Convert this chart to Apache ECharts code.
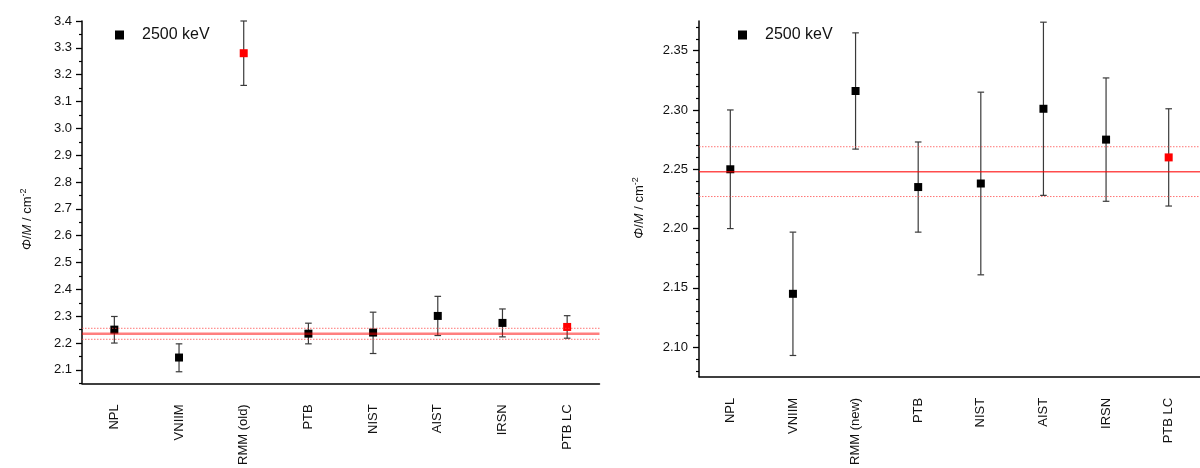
<!DOCTYPE html>
<html>
<head>
<meta charset="utf-8">
<script src="https://cdn.jsdelivr.net/npm/echarts@6/dist/echarts.min.js"></script>
<style>
html,body{margin:0;padding:0;background:#fff;}
#main{width:1200px;height:468px;}
</style>
</head>
<body>
<div id="main"></div>
<script>
// ---------- data ----------
const seriesName = '2500 keV';
const categoriesLeft = ['NPL', 'VNIIM', 'RMM (old)', 'PTB', 'NIST', 'AIST', 'IRSN', 'PTB LC'];
const valuesLeft = [2.250, 2.146, 3.280, 2.235, 2.239, 2.301, 2.275, 2.260];
const lowLeft    = [2.200, 2.093, 3.160, 2.197, 2.161, 2.228, 2.223, 2.218];
const highLeft   = [2.299, 2.197, 3.400, 2.274, 2.315, 2.374, 2.327, 2.302];
const refLeft = [2.235, 2.214, 2.255]; // mean, lower, upper

const categoriesRight = ['NPL', 'VNIIM', 'RMM (new)', 'PTB', 'NIST', 'AIST', 'IRSN', 'PTB LC'];
const valuesRight = [2.250, 2.145, 2.316, 2.235, 2.238, 2.301, 2.275, 2.260];
const lowRight    = [2.200, 2.093, 2.267, 2.197, 2.161, 2.228, 2.223, 2.219];
const highRight   = [2.300, 2.197, 2.365, 2.273, 2.315, 2.374, 2.327, 2.301];
const refRight = [2.248, 2.227, 2.269];

const highlighted = ['RMM (old)', 'PTB LC'];

const tickLabelsLeft = [2.1, 2.2, 2.3, 2.4, 2.5, 2.6, 2.7, 2.8, 2.9, 3.0, 3.1, 3.2, 3.3, 3.4];
const tickLabelsRight = [2.10, 2.15, 2.20, 2.25, 2.30, 2.35];

// ---------- helpers ----------
const FONT = '"Liberation Sans", Arial, sans-serif';
const leftRange = [2.05, 3.4];
const rightRange = [2.075, 2.375];

function minorTicks(range, step, majors) {
  const out = [];
  const start = Math.ceil(range[0] / step - 1e-6);
  for (let k = start; k * step <= range[1] + 1e-9; k++) {
    const v = +(k * step).toFixed(4);
    if (!majors.some(m => Math.abs(m - v) < 1e-6)) out.push(v);
  }
  return out;
}
const minorLeft = minorTicks(leftRange, 0.05, tickLabelsLeft);
const minorRight = minorTicks(rightRange, 0.01, tickLabelsRight);

function errorRender(params, api) {
  const x = api.value(0);
  const lo = api.coord([x, api.value(1)]);
  const hi = api.coord([x, api.value(2)]);
  const cap = 3.3;
  const style = { stroke: '#3a3a3a', lineWidth: 1.2 };
  return {
    type: 'group',
    children: [
      { type: 'line', shape: { x1: lo[0], y1: lo[1], x2: hi[0], y2: hi[1] }, style },
      { type: 'line', shape: { x1: lo[0] - cap, y1: lo[1], x2: lo[0] + cap, y2: lo[1] }, style },
      { type: 'line', shape: { x1: hi[0] - cap, y1: hi[1], x2: hi[0] + cap, y2: hi[1] }, style }
    ]
  };
}

// reference band lines drawn through the axis scale (full width of the grid)
function refRender(params, api) {
  const y = api.value(0);
  const kind = api.value(1);
  const cs = params.coordSys;
  const p = api.coord([0, y]);
  const yy = p[1];
  let style;
  if (kind === 0) {
    style = params.seriesIndex === 4
      ? { stroke: 'rgba(255,0,0,0.5)', lineWidth: 2.5 }
      : { stroke: 'rgba(255,0,0,0.7)', lineWidth: 1.5 };
  } else {
    style = { stroke: 'rgba(255,70,70,0.75)', lineWidth: 1, lineDash: [1.5, 1.5] };
  }
  return {
    type: 'line',
    shape: { x1: cs.x, y1: yy, x2: cs.x + cs.width, y2: yy },
    style: style
  };
}

function yName() {
  return '{i|Φ}/{i|M} / cm{s|-2}';
}
const nameRich = {
  i: { fontStyle: 'italic', fontSize: 13, fontFamily: FONT, color: '#111' },
  s: { fontSize: 9, fontFamily: FONT, color: '#111', verticalAlign: 'top', padding: [0, 0, 8, 0] }
};

function xAxisCfg(gridIndex, cats) {
  return {
    type: 'category', gridIndex, data: cats, boundaryGap: true,
    axisLine: { lineStyle: { color: '#000', width: 1.5 } },
    axisTick: { alignWithLabel: true, length: 6, lineStyle: { color: '#000', width: 1.3 } },
    axisLabel: { rotate: 90, margin: 21, fontSize: 13, fontFamily: FONT, color: '#111' },
    splitLine: { show: false }
  };
}
function yAxisMain(gridIndex, range, ticks, decimals, margin, nameGap, namePad) {
  return {
    type: 'value', gridIndex, position: 'left', min: range[0], max: range[1],
    name: yName(), nameLocation: 'middle', nameGap: nameGap,
    nameTextStyle: { fontSize: 13, fontFamily: FONT, color: '#111', rich: nameRich, padding: namePad },
    axisLine: { show: true, lineStyle: { color: '#000', width: 1.5 } },
    axisTick: { show: true, length: 6, customValues: ticks, lineStyle: { color: '#000', width: 1.3 } },
    axisLabel: { customValues: ticks, margin: margin, fontSize: 13, fontFamily: FONT, color: '#111',
      formatter: v => (+v).toFixed(decimals) },
    splitLine: { show: false }
  };
}
function yAxisMinor(gridIndex, range, ticks) {
  return {
    type: 'value', gridIndex, position: 'left', offset: 0, min: range[0], max: range[1],
    axisLine: { show: false },
    axisTick: { show: true, length: 3, customValues: ticks, lineStyle: { color: '#000', width: 1.2 } },
    axisLabel: { show: false },
    splitLine: { show: false }
  };
}

function pointData(cats, vals) {
  return vals.map((v, i) => ({
    value: [i, v],
    itemStyle: { color: highlighted.includes(cats[i]) ? '#ff0000' : '#000000', opacity: 1 }
  }));
}
function errData(lo, hi) {
  return lo.map((l, i) => [i, l, hi[i]]);
}
function refData(ref) {
  return ref.map((v, i) => [v, i]);
}

const option = {
  animation: false,
  backgroundColor: '#ffffff',
  textStyle: { fontFamily: FONT },
  grid: [
    { left: 82, top: 21, width: 517.5, bottom: 84.7 },
    { left: 699, top: 21, width: 512, bottom: 89 }
  ],
  legend: [
    { left: 110, top: 22, icon: 'rect', itemWidth: 9, itemHeight: 9, itemGap: 0,
      data: [seriesName], selectedMode: false,
      textStyle: { fontSize: 16, fontFamily: FONT, color: '#111', padding: [0, 0, 0, 13] } },
    { left: 733, top: 22, icon: 'rect', itemWidth: 9, itemHeight: 9, itemGap: 0,
      data: [seriesName], selectedMode: false,
      textStyle: { fontSize: 16, fontFamily: FONT, color: '#111', padding: [0, 0, 0, 13] } }
  ],
  xAxis: [xAxisCfg(0, categoriesLeft), xAxisCfg(1, categoriesRight)],
  yAxis: [
    yAxisMain(0, leftRange, tickLabelsLeft, 1, 10, 46, [0, 34, 0, 0]),
    yAxisMinor(0, leftRange, minorLeft),
    yAxisMain(1, rightRange, tickLabelsRight, 2, 11, 51, [0, 18, 0, 0]),
    yAxisMinor(1, rightRange, minorRight)
  ],
  series: [
    { type: 'custom', xAxisIndex: 0, yAxisIndex: 0, renderItem: errorRender, data: errData(lowLeft, highLeft), clip: false, z: 2 },
    { type: 'custom', xAxisIndex: 1, yAxisIndex: 2, renderItem: errorRender, data: errData(lowRight, highRight), clip: false, z: 2 },
    { name: seriesName, type: 'scatter', xAxisIndex: 0, yAxisIndex: 0, symbol: 'rect', symbolSize: 8,
      itemStyle: { color: '#000', opacity: 1 }, data: pointData(categoriesLeft, valuesLeft), z: 3 },
    { name: seriesName, type: 'scatter', xAxisIndex: 1, yAxisIndex: 2, symbol: 'rect', symbolSize: 8,
      itemStyle: { color: '#000', opacity: 1 }, data: pointData(categoriesRight, valuesRight), z: 3 },
    { type: 'custom', xAxisIndex: 0, yAxisIndex: 0, renderItem: refRender, data: refData(refLeft),
      encode: { y: 0 }, silent: true, z: 4 },
    { type: 'custom', xAxisIndex: 1, yAxisIndex: 2, renderItem: refRender, data: refData(refRight),
      encode: { y: 0 }, silent: true, z: 4 }
  ]
};

const chart = echarts.init(document.getElementById('main'), null, { renderer: 'canvas' });
chart.setOption(option);
</script>
</body>
</html>
